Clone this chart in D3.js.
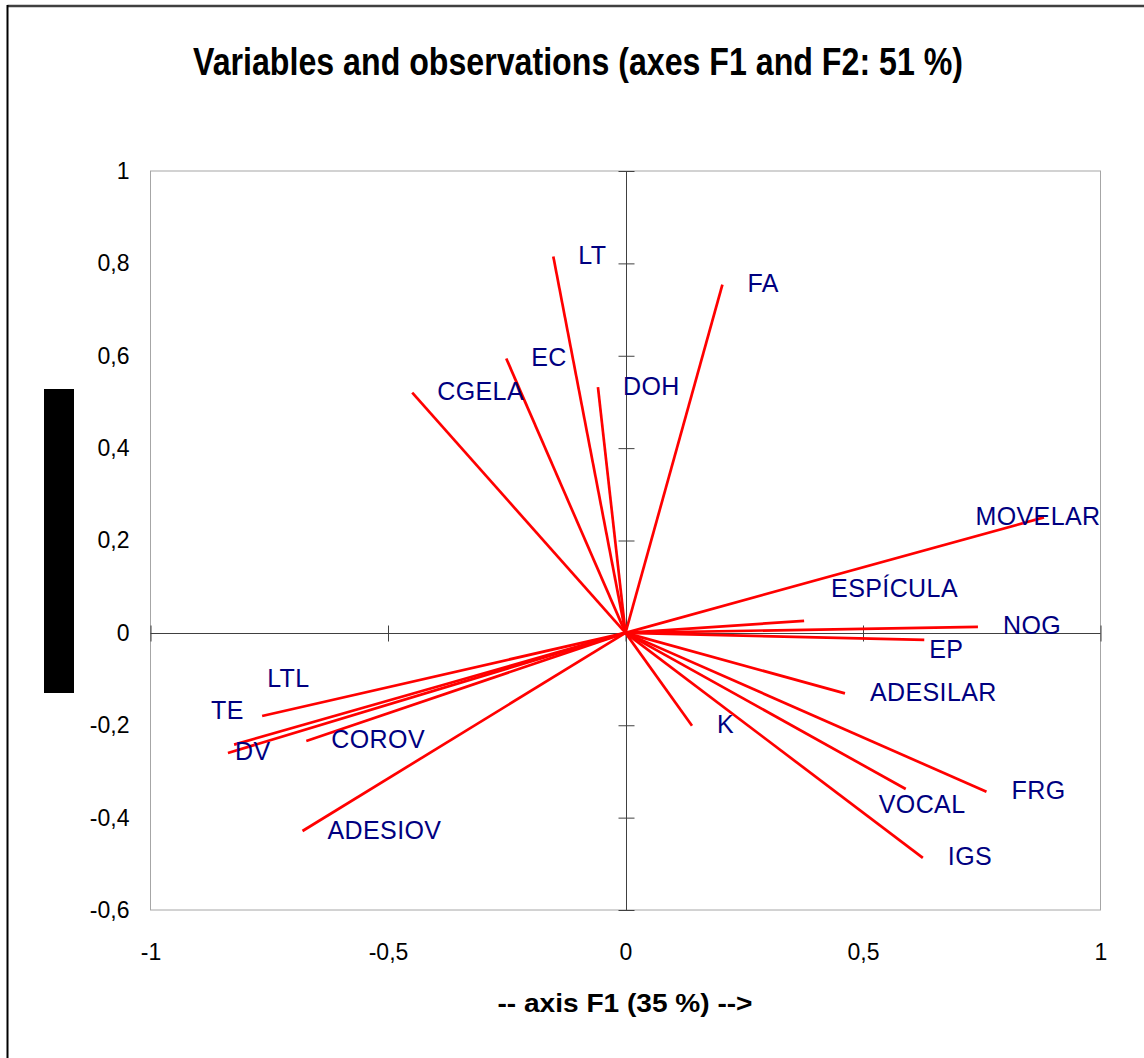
<!DOCTYPE html>
<html>
<head>
<meta charset="utf-8">
<script src="https://cdn.jsdelivr.net/npm/d3@7"></script>
<style>
  html, body { margin: 0; padding: 0; background: #fff; }
  svg { display: block; }
</style>
</head>
<body>
<svg id="chart" width="1144" height="1058"></svg>
<script>
// Correlation circle: loadings of each variable on the first two factors
const variables = ["LT", "FA", "EC", "DOH", "CGELA", "MOVELAR", "ESPÍCULA", "NOG", "EP",
  "ADESILAR", "K", "VOCAL", "FRG", "IGS", "LTL", "TE", "DV", "COROV", "ADESIOV"];
const f1 = [-0.152, 0.204, -0.251, -0.058, -0.449, 0.881, 0.376, 0.742, 0.629,
  0.462, 0.140, 0.590, 0.760, 0.626, -0.765, -0.824, -0.837, -0.672, -0.680];
const f2 = [0.815, 0.754, 0.594, 0.532, 0.520, 0.250, 0.026, 0.013, -0.015,
  -0.131, -0.201, -0.338, -0.344, -0.487, -0.180, -0.242, -0.260, -0.234, -0.429];

const xTicks = [-1, -0.5, 0, 0.5, 1];
const yTicks = [1, 0.8, 0.6, 0.4, 0.2, 0, -0.2, -0.4, -0.6];

const titleText = "Variables and observations (axes F1 and F2: 51 %)";
const xTitleText = "-- axis F1 (35 %) -->";

// label nudges (pixels) where the default placement would collide
const labelNudge = {
  "ESPÍCULA": [27, -31],
  "EP": [5, 11],
  "VOCAL": [-27, 17],
  "LTL": [5, -37],
  "TE": [-23, -33],
  "DV": [7, 0]
};

const svg = d3.select("#chart");
const W = 1144, H = 1058;
const plot = { left: 150.5, right: 1100.5, top: 171, bottom: 910 };
const font = "'Liberation Sans', Arial, sans-serif";
// decimal comma and a plain hyphen for negatives
const comma = v => String(v).replace(".", ",");

const x = d3.scaleLinear().domain([-1, 1]).range([plot.left, plot.right]);
const y = d3.scaleLinear().domain([-0.6, 1]).range([plot.bottom, plot.top]);

// outer frame (top and left edges)
svg.append("line").attr("x1", 7.5).attr("x2", W).attr("y1", 6).attr("y2", 6)
  .attr("stroke", "#404040").attr("stroke-width", 2.5);
svg.append("line").attr("x1", 7.5).attr("x2", 7.5).attr("y1", 5).attr("y2", H)
  .attr("stroke", "#000").attr("stroke-width", 2);

// title
svg.append("text")
  .attr("x", 578).attr("y", 75)
  .attr("text-anchor", "middle")
  .attr("font-family", font).attr("font-weight", "bold").attr("font-size", 39)
  .attr("textLength", 770).attr("lengthAdjust", "spacingAndGlyphs")
  .text(titleText);

// vertical axis title block
svg.append("rect").attr("x", 44).attr("y", 389).attr("width", 30).attr("height", 304)
  .attr("fill", "#000");

// plot frame
svg.append("rect")
  .attr("x", plot.left).attr("y", plot.top)
  .attr("width", plot.right - plot.left).attr("height", plot.bottom - plot.top)
  .attr("fill", "none").attr("stroke", "#a6a6a6").attr("stroke-width", 1);

// tick labels outside the frame
const yLab = svg.append("g").attr("transform", `translate(${plot.left},0)`)
  .call(d3.axisLeft(y).tickValues(yTicks).tickFormat(comma).tickSize(0).tickPadding(21));
yLab.select(".domain").remove();
yLab.selectAll("text").attr("font-family", font).attr("font-size", 23).attr("fill", "#000");

const xLab = svg.append("g").attr("transform", `translate(0,${plot.bottom})`)
  .call(d3.axisBottom(x).tickValues(xTicks).tickFormat(comma).tickSize(0).tickPadding(34));
xLab.select(".domain").remove();
xLab.selectAll("text").attr("font-family", font).attr("font-size", 23).attr("fill", "#000");

// axis lines through the origin, with ticks crossing them
const x0 = Math.round(x(0)) + 0.5, y0 = Math.round(y(0)) + 0.5;
const axisColor = "#404040";
svg.append("line").attr("x1", x0).attr("x2", x0).attr("y1", plot.top).attr("y2", plot.bottom)
  .attr("stroke", axisColor);
svg.append("line").attr("x1", plot.left).attr("x2", plot.right).attr("y1", y0).attr("y2", y0)
  .attr("stroke", axisColor);

const yTickG = svg.append("g").attr("transform", `translate(${x0 - 8},0)`)
  .call(d3.axisRight(y).tickValues(yTicks).tickFormat("").tickSize(16));
yTickG.select(".domain").remove();
yTickG.selectAll("line").attr("stroke", axisColor);

const xTickG = svg.append("g").attr("transform", `translate(0,${y0 - 8})`)
  .call(d3.axisBottom(x).tickValues(xTicks).tickFormat("").tickSize(16));
xTickG.select(".domain").remove();
xTickG.selectAll("line").attr("stroke", axisColor);

// variable vectors
const data = variables.map((name, i) => ({ name, f1: f1[i], f2: f2[i] }));

svg.append("g").selectAll("line").data(data).join("line")
  .attr("x1", x(0)).attr("y1", y(0))
  .attr("x2", d => x(d.f1)).attr("y2", d => y(d.f2))
  .attr("stroke", "#ff0000").attr("stroke-width", 2.7).attr("stroke-linecap", "butt");

// variable labels, kept inside the plot frame
svg.append("g").selectAll("text").data(data).join("text")
  .attr("font-family", font).attr("font-size", 25).attr("letter-spacing", 0.4)
  .attr("fill", "#000080")
  .attr("dominant-baseline", "central")
  .text(d => d.name)
  .each(function (d) {
    const [dx, dy] = labelNudge[d.name] || [25, 0];
    const w = this.getComputedTextLength();
    let lx = x(d.f1) + dx;
    if (lx + w > plot.right) lx = plot.right - w;
    d3.select(this).attr("x", lx).attr("y", y(d.f2) + dy - 1.5);
  });

// horizontal axis title
svg.append("text")
  .attr("x", 625).attr("y", 1012)
  .attr("text-anchor", "middle")
  .attr("font-family", font).attr("font-weight", "bold").attr("font-size", 25)
  .attr("textLength", 255).attr("lengthAdjust", "spacingAndGlyphs")
  .text(xTitleText);
</script>
</body>
</html>
